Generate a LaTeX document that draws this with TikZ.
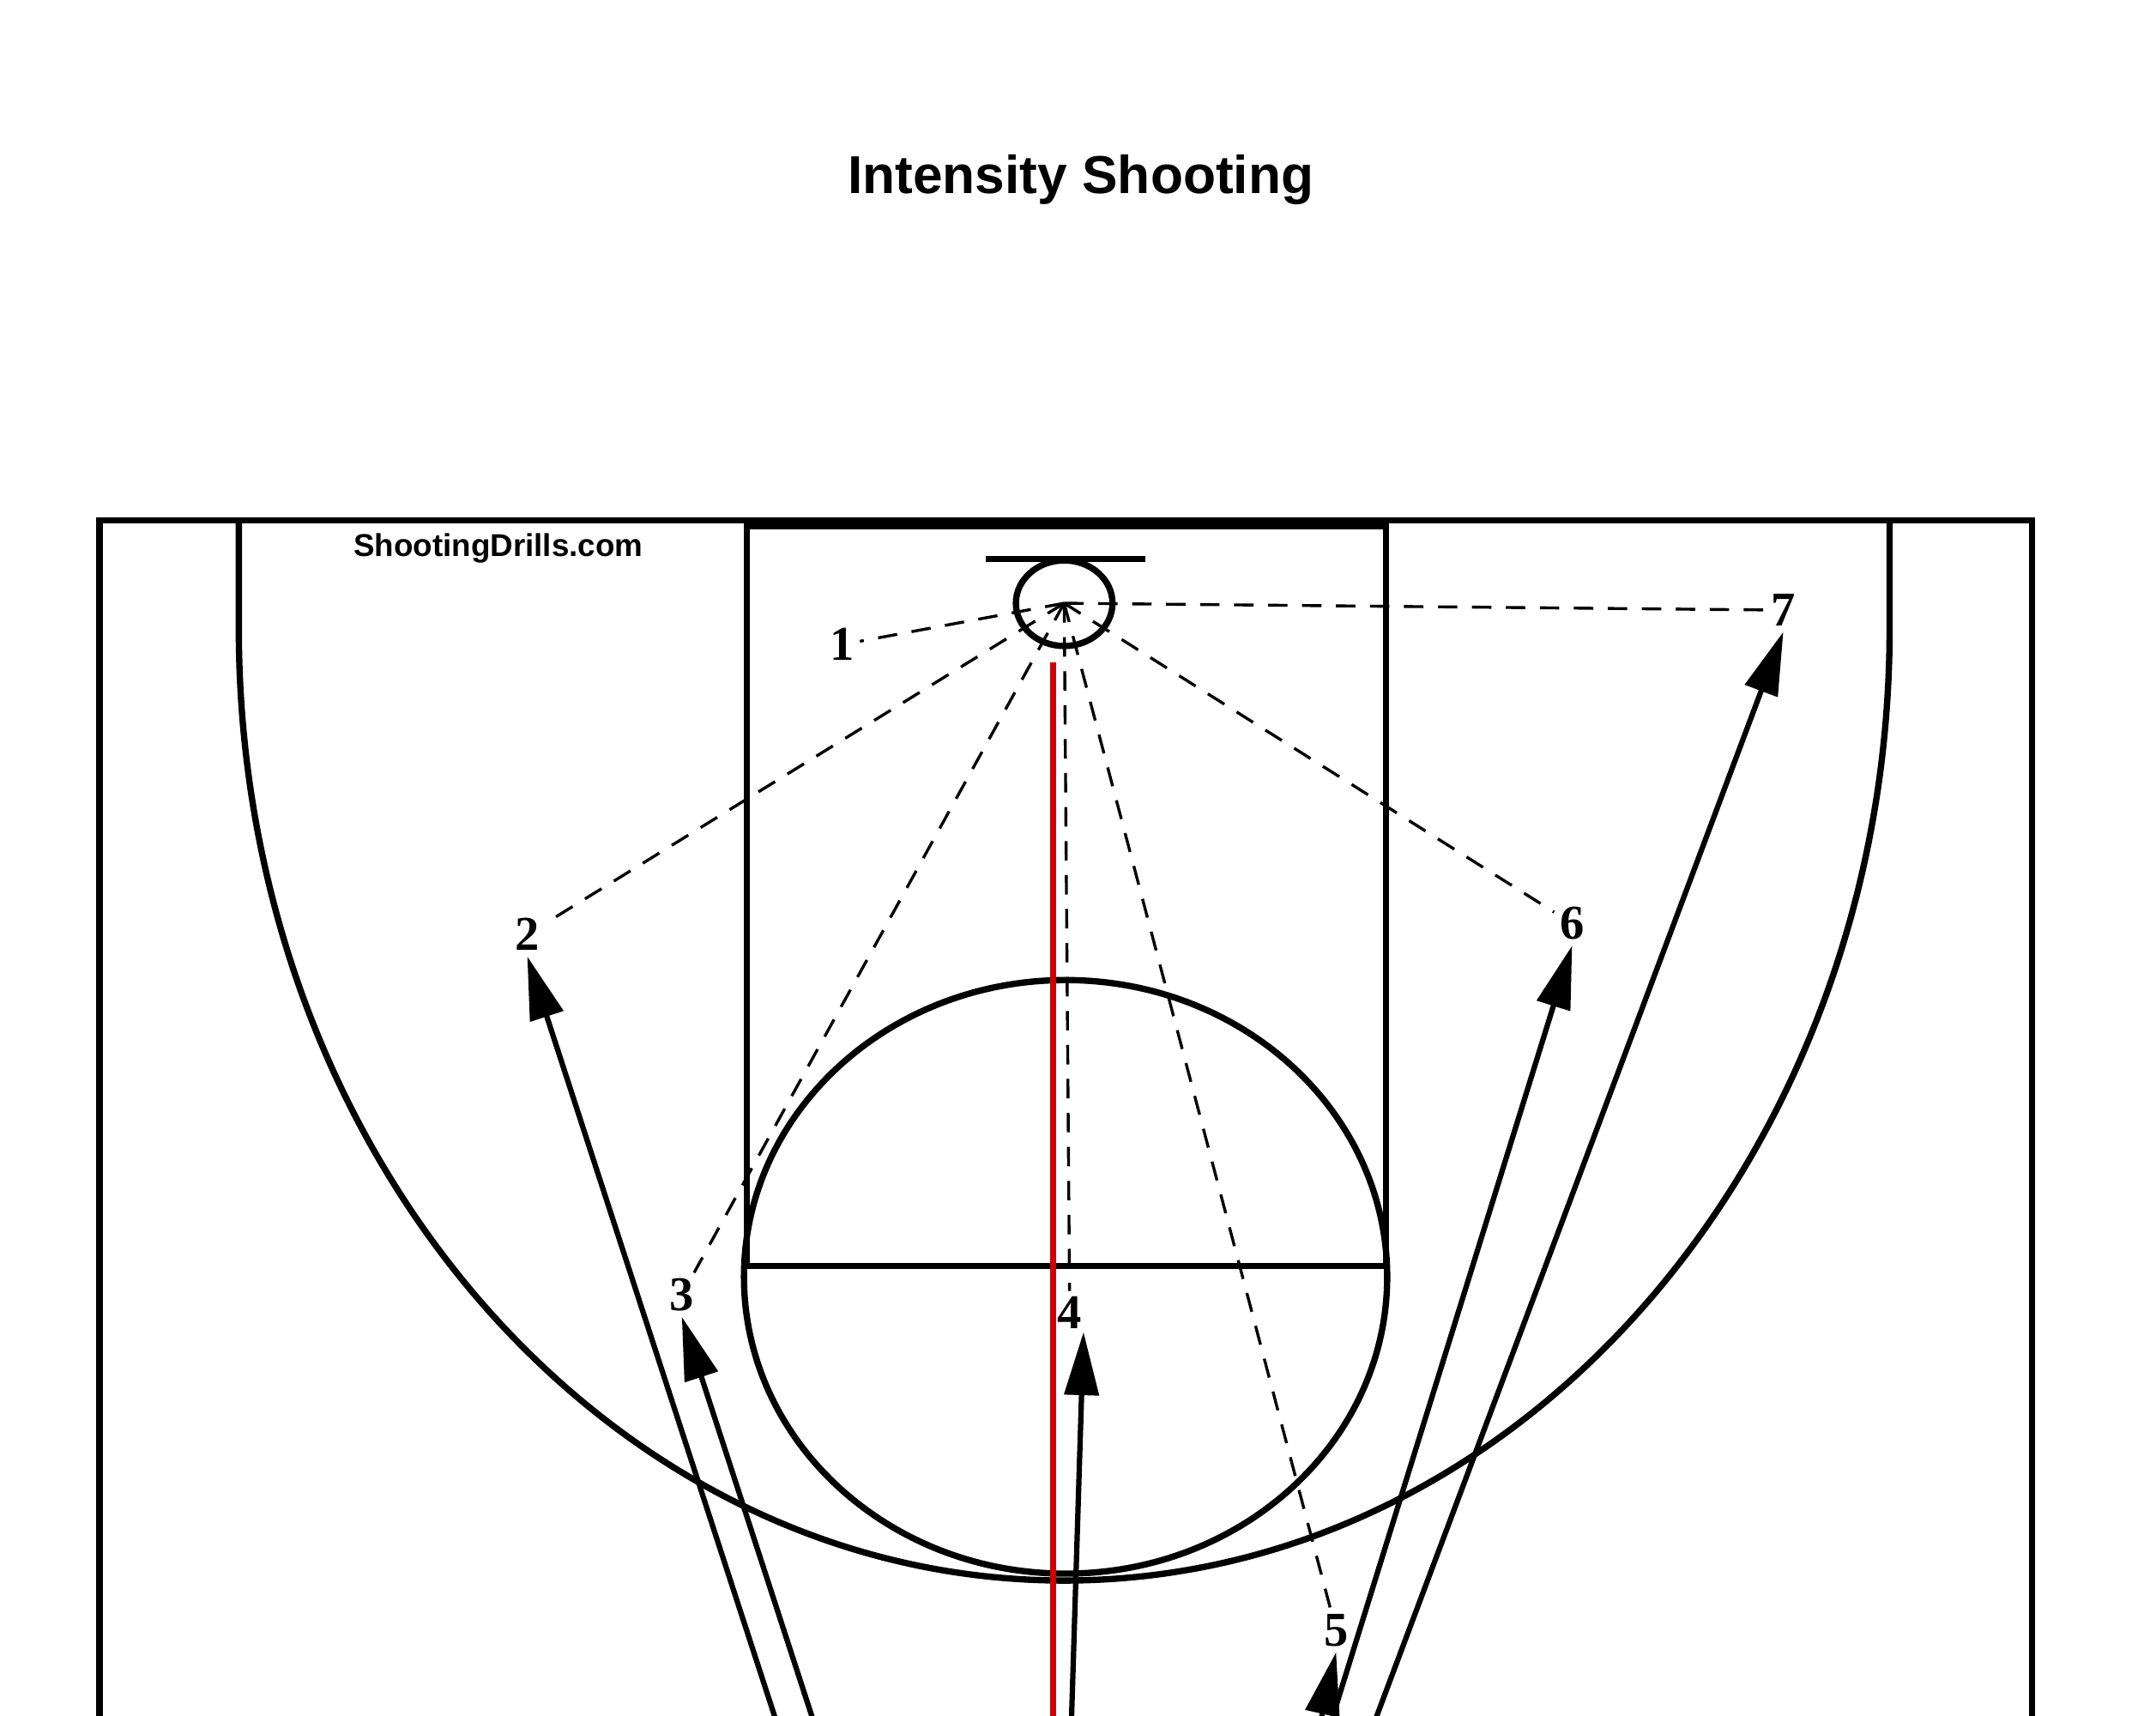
\documentclass[tikz,border=0pt]{standalone}
\usepackage{fontspec}
\setsansfont{Liberation Sans}
\setmainfont{Liberation Serif}
\usetikzlibrary{arrows.meta}
\begin{document}
\begin{tikzpicture}[x=0.01cm,y=-0.01cm,
  court/.style={line width=1.3pt},
  pass/.style={dashed,line width=0.6pt,dash pattern=on 4pt off 3pt},
  cut/.style={line width=1.1pt,-{Triangle[length=13pt,width=7pt]}},
  num/.style={font=\bfseries\fontsize{10}{10}\selectfont\rmfamily,inner sep=1pt}]
\useasboundingbox[fill=white] (0,0) rectangle (1562,1243);
\node[font=\sffamily\bfseries\fontsize{11}{12}\selectfont] (title) at (783,130) {Intensity Shooting};
\node[font=\sffamily\bfseries\fontsize{6.5}{7}\selectfont] (site) at (361,397) {ShootingDrills.com};
\draw[court] (72,1260) -- (72,377) -- (1472,377) -- (1472,1260);
\draw[court] (541,917) -- (541,381) -- (1004,381) -- (1004,917) -- cycle;
\draw[court] (772,925) ellipse [x radius=233, y radius=215];
\draw[court] (173,377) -- (173,455) arc[start angle=180,end angle=0,x radius=598,y radius=690] -- (1369,377);
\draw[court] (714,405) -- (830,405);
\draw[court] (771,437) ellipse [x radius=35, y radius=31];
\coordinate (rim) at (771,437);
\draw[red!80!black,line width=1.2pt] (763,480) -- (763,1250);
\node[num] (n1) at (610,467) {1};
\node[num] (n2) at (382,677) {2};
\node[num] (n3) at (494,938) {3};
\node[num] (n4) at (775,951) {4};
\node[num] (n5) at (968,1181) {5};
\node[num] (n6) at (1139,669) {6};
\node[num] (n7) at (1292,442) {7};
\foreach \n in {n1,n2,n3,n4,n5,n6,n7} \draw[pass] (rim) -- (\n);
\coordinate (s2) at (565,1255); \coordinate (s3) at (592,1255);
\coordinate (s4) at (776,1255); \coordinate (s5) at (955,1255);
\coordinate (s6) at (962,1255); \coordinate (s7) at (993,1255);
\coordinate (t4) at (785,965);
\draw[cut] (s2) -- (n2.south);
\draw[cut] (s3) -- (n3.south);
\draw[cut] (s4) -- (t4);
\draw[cut] (s5) -- (n5.south);
\draw[cut] (s6) -- (n6.south);
\draw[cut] (s7) -- (n7.south);
\end{tikzpicture}
\end{document}
